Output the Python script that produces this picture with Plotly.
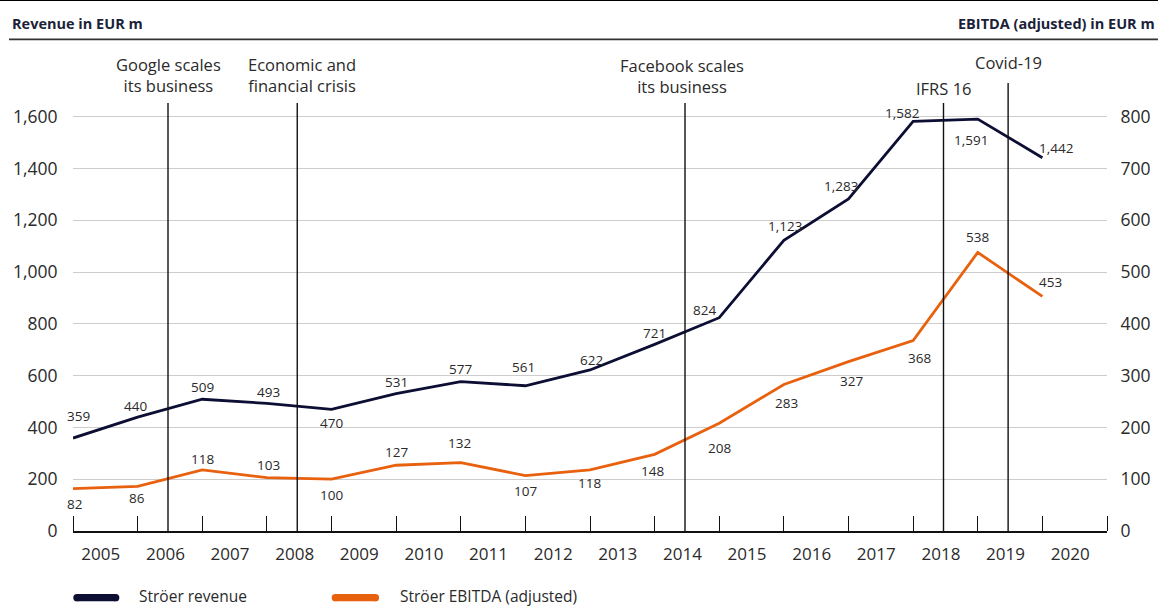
import plotly.graph_objects as go

# ---------------- data ----------------
years = list(range(2005, 2021))
revenue = [359, 440, 509, 493, 470, 531, 577, 561, 622, 721, 824, 1123, 1283, 1582, 1591, 1442]
ebitda = [82, 86, 118, 103, 100, 127, 132, 107, 118, 148, 208, 283, 327, 368, 538, 453]
year_labels = [str(y) for y in years]

event_years = [2006, 2008, 2014, 2018, 2019]
event_texts = ["Google scales<br>its business", "Economic and<br>financial crisis",
               "Facebook scales<br>its business", "IFRS 16", "Covid-19"]

left_ticks = [0, 200, 400, 600, 800, 1000, 1200, 1400, 1600]
right_ticks = [0, 100, 200, 300, 400, 500, 600, 700, 800]

# ---------------- styles ----------------
NAVY = "#0d0e33"
ORANGE = "#e8610f"
TXT = "#2a2a2a"
FONT = "Open Sans"

# label offsets in pixels (dx, dy) ; dy positive = downwards
rev_off = [(5, -22), (-2, -11), (0, -12.5), (2, -11), (0, 13.4), (0, -11.5), (0, -13), (-2, -19),
           (1, -10.3), (0, -11.6), (-15, -8), (1, -14), (-8, -13), (-11, -8), (-7, 21), (14, -10)]
ebi_off = [(1, 15), (-1, 12), (0, -10.6), (2, -12.4), (0, 15.5), (0, -13), (-1, -19.3), (0, 15.7),
           (-1, 13), (-2, 16.6), (0, 24.4), (3, 18.8), (3, 19.3), (6, 17.6), (0, -15.7), (8, -14.7)]

event_line_top = [1653, 1653, 1653, 1653, 1730]
event_text_y = [0.9785, 0.9785, 0.9768, 0.9506, 1.0043]   # paper units
event_text_dx = [0, 5, -3, 0, 0]
EVENT_SHIFT = 0.47
LABEL_SHIFT = 0.43

fig = go.Figure()
fig.add_trace(go.Scatter(x=years, y=revenue, mode="lines", name="Ströer revenue",
                         line=dict(color=NAVY, width=2.8), yaxis="y", showlegend=False,
                         hoverinfo="skip"))
fig.add_trace(go.Scatter(x=years, y=ebitda, mode="lines", name="Ströer EBITDA (adjusted)",
                         line=dict(color=ORANGE, width=2.8), yaxis="y2", showlegend=False,
                         hoverinfo="skip"))

annotations = []
for x, v, (dx, dy) in zip(years, revenue, rev_off):
    annotations.append(dict(x=x, y=v, xref="x", yref="y", text=f"{v:,}", showarrow=False,
                            xshift=dx, yshift=-dy, font=dict(family=FONT, size=13.5, color=TXT)))
for x, v, (dx, dy) in zip(years, ebitda, ebi_off):
    annotations.append(dict(x=x, y=v, xref="x", yref="y2", text=f"{v:,}", showarrow=False,
                            xshift=dx, yshift=-dy, font=dict(family=FONT, size=13.5, color=TXT)))

shapes = []
for ey, txt, top, ty, tdx in zip(event_years, event_texts, event_line_top, event_text_y, event_text_dx):
    xe = ey + EVENT_SHIFT
    shapes.append(dict(type="line", xref="x", yref="y", x0=xe, x1=xe, y0=0, y1=top,
                       line=dict(color="#111111", width=1.4), layer="above"))
    annotations.append(dict(x=xe, y=ty, xref="x", yref="paper", text=txt, showarrow=False,
                            xshift=tdx, yanchor="middle", align="center",
                            font=dict(family=FONT, size=16.5, color=TXT)))

# headers
annotations.append(dict(x=-0.0609, y=1.088, xref="paper", yref="paper", text="<b>Revenue in EUR m</b>",
                        showarrow=False, xanchor="left", yanchor="middle",
                        font=dict(family=FONT, size=14.5, color="#1c1f3a")))
annotations.append(dict(x=1.0484, y=1.088, xref="paper", yref="paper",
                        text="<b>EBITDA (adjusted) in EUR m</b>",
                        showarrow=False, xanchor="right", yanchor="middle",
                        font=dict(family=FONT, size=14.5, color="#1c1f3a")))
shapes.append(dict(type="line", xref="paper", yref="paper", x0=-0.0706, x1=1.0493,
                   y0=1.1384, y1=1.1384, line=dict(color="#000000", width=1.2)))
shapes.append(dict(type="line", xref="paper", yref="paper", x0=-0.0619, x1=1.0493,
                   y0=1.0552, y1=1.0552, line=dict(color="#333333", width=1.8)))

# custom legend
legend_items = [("Ströer revenue", NAVY, 0.0038, 0.0413, 0.0622),
                ("Ströer EBITDA (adjusted)", ORANGE, 0.2537, 0.2925, 0.3146)]
ly = -0.1431
lty = -0.1395
for name, col, xa, xb, xt in legend_items:
    shapes.append(dict(type="line", xref="paper", yref="paper", x0=xa, x1=xb, y0=ly, y1=ly,
                       line=dict(color=col, width=7.3)))
    for xc in (xa, xb):
        shapes.append(dict(type="circle", xref="paper", yref="paper", xsizemode="pixel",
                           ysizemode="pixel", xanchor=xc, yanchor=ly, x0=-3.65, x1=3.65,
                           y0=-3.65, y1=3.65, fillcolor=col, line=dict(width=0)))
    annotations.append(dict(x=xt, y=lty, xref="paper", yref="paper", text=name, showarrow=False,
                            xanchor="left", yanchor="middle",
                            font=dict(family=FONT, size=15.5, color=TXT)))

fig.update_layout(
    width=1164, height=606,
    margin=dict(l=73, r=57, t=65, b=75),
    paper_bgcolor="white", plot_bgcolor="white",
    showlegend=False,
    font=dict(family=FONT, color=TXT),
    xaxis=dict(range=[2005, 2021], tickmode="array",
               tickvals=[y + LABEL_SHIFT for y in years], ticktext=year_labels,
               ticks="outside", ticklen=7, tickcolor="rgba(0,0,0,0)",
               tickfont=dict(family=FONT, size=17, color=TXT),
               showgrid=False, zeroline=False,
               showline=True, linecolor="#111111", linewidth=1.6,
               minor=dict(tickmode="array", tickvals=list(range(2005, 2022)), ticks="inside",
                          ticklen=15, tickwidth=1.4, tickcolor="#111111", showgrid=False)),
    yaxis=dict(range=[0, 1800], tickmode="array", tickvals=left_ticks,
               ticktext=[f"{v:,}" for v in left_ticks],
               ticks="outside", ticklen=11, tickcolor="rgba(0,0,0,0)",
               tickfont=dict(family=FONT, size=17.5, color=TXT),
               showgrid=True, gridcolor="#cdcdcd", gridwidth=1.3, zeroline=False, showline=False),
    yaxis2=dict(range=[0, 900], overlaying="y", side="right", tickmode="array",
                tickvals=right_ticks, ticktext=[f"{v:,}" for v in right_ticks],
                ticks="outside", ticklen=9, tickcolor="rgba(0,0,0,0)",
                tickfont=dict(family=FONT, size=17.5, color=TXT),
                showgrid=False, zeroline=False, showline=False),
    annotations=annotations,
    shapes=shapes,
)

fig.write_html("out.html")
